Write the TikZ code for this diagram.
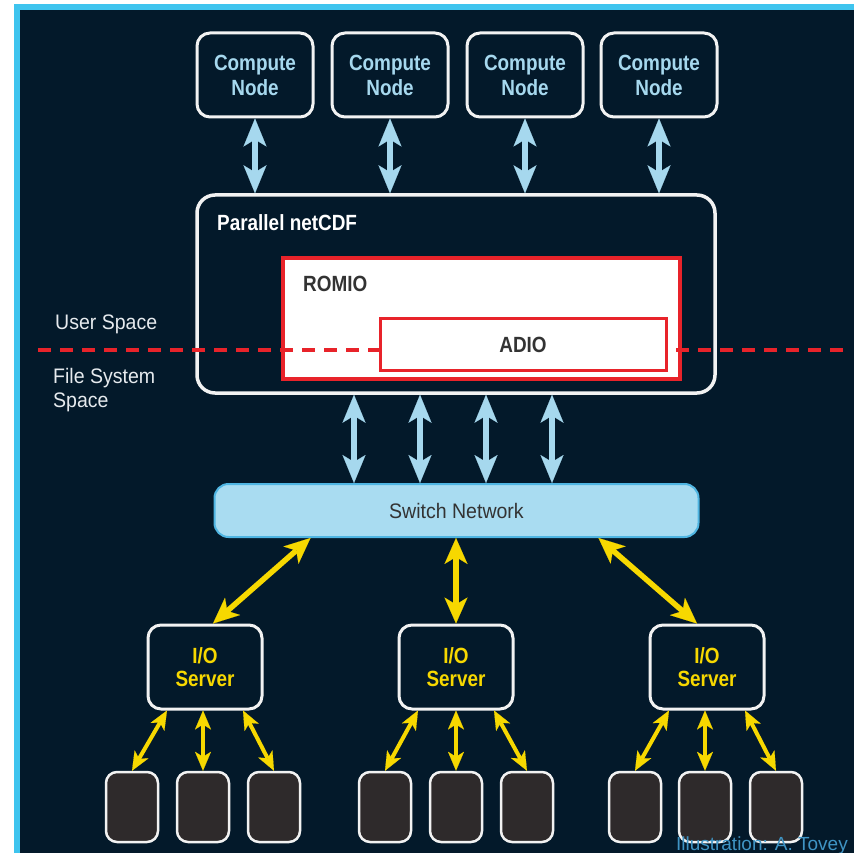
\documentclass[tikz,border=0pt]{standalone}
\usepackage{fontspec}
\setmainfont{Liberation Sans}
\newfontfamily\condbold{Liberation Sans}[FakeStretch=0.86]
\newfontfamily\condreg{Liberation Sans}[FakeStretch=0.93]
\usetikzlibrary{arrows.meta,calc}
\definecolor{bg}{HTML}{03192A}
\definecolor{cyanedge}{HTML}{3EC4EE}
\definecolor{lblue}{HTML}{A6D8EE}
\definecolor{swfill}{HTML}{A9DCF1}
\definecolor{swedge}{HTML}{4FB5E2}
\definecolor{ylw}{HTML}{F7D800}
\definecolor{rd}{HTML}{E8232A}
\definecolor{diskfill}{HTML}{2E2A2B}
\definecolor{edge}{HTML}{F2F2F2}
\definecolor{credit}{HTML}{3F94C4}
\definecolor{darktext}{HTML}{333333}
\definecolor{lighttext}{HTML}{E6EAEE}
\begin{document}
\begin{tikzpicture}[x=1pt,y=-1pt,
  box/.style={draw=edge, line width=3pt, rounded corners=13pt, fill=bg, align=center, inner sep=0pt},
  compute/.style={box, minimum width=116pt, minimum height=84pt, text=lblue,
    font=\condbold\bfseries\fontsize{22}{25}\selectfont},
  server/.style={box, minimum width=114pt, minimum height=84pt, text=ylw,
    font=\condbold\bfseries\fontsize{22}{23}\selectfont},
  disk/.style={draw=edge, line width=2.5pt, rounded corners=11pt, fill=diskfill,
    minimum width=52pt, minimum height=70pt, inner sep=0pt},
  redbox/.style={draw=rd, fill=white, inner sep=0pt},
  boldlabel/.style={font=\condbold\bfseries\fontsize{22}{25}\selectfont, inner sep=0pt},
  reglabel/.style={font=\condreg\fontsize{21}{24}\selectfont, inner sep=0pt, align=left},
  barrow/.style={draw=lblue, line width=6.5pt,
    {Stealth[length=28pt,width=23pt,inset=7pt,line width=0.1pt]}-{Stealth[length=28pt,width=23pt,inset=7pt,line width=0.1pt]}},
  yarrow/.style={draw=ylw, line width=5.5pt,
    {Stealth[length=26pt,width=23pt,inset=7pt,line width=0.1pt]}-{Stealth[length=26pt,width=23pt,inset=7pt,line width=0.1pt]}},
  darrow/.style={draw=ylw, line width=4pt,
    {Stealth[length=19pt,width=16pt,inset=5pt,line width=0.1pt]}-{Stealth[length=19pt,width=16pt,inset=5pt,line width=0.1pt]}},
  divider/.style={draw=rd, line width=3.5pt, dash pattern=on 13pt off 9pt}
]
\useasboundingbox (0,0) rectangle (854,853);
% frame and background
\fill[white] (0,0) rectangle (854,853);
\fill[cyanedge] (14,4) rectangle (854,853);
\fill[bg] (20,10) rectangle (854,853);

% compute nodes
\node[compute] (c1) at (255,75) {Compute\\Node};
\node[compute] (c2) at (390,75) {Compute\\Node};
\node[compute] (c3) at (525,75) {Compute\\Node};
\node[compute] (c4) at (659,75) {Compute\\Node};

% parallel netCDF
\node[box, line width=3.5pt, rounded corners=18pt, minimum width=518pt, minimum height=198pt] (pn) at (456,294) {};
\node[boldlabel, text=white, anchor=west] (pnlabel) at (217,223) {Parallel netCDF};

% ROMIO
\node[redbox, line width=4pt, minimum width=397pt, minimum height=121pt] (romio) at (481.5,318.5) {};
\node[boldlabel, text=darktext, anchor=west] (romiolabel) at (303,284) {ROMIO};

% dashed divider
\coordinate (divL) at (38,350);
\coordinate (divR) at (846,350);
\draw[divider] (divL) -- (divR);

% ADIO
\node[redbox, line width=3pt, minimum width=286pt, minimum height=52pt, text=darktext,
  font=\condbold\bfseries\fontsize{22}{25}\selectfont] (adio) at (523,344.5) {ADIO};

% space labels
\node[reglabel, text=lighttext, anchor=west] (user) at (55,324) {User Space};
\node[reglabel, text=lighttext, anchor=north west] (fss) at (53,368) {File System\\Space};

% arrows compute -> pn
\foreach \c in {c1,c2,c3,c4}
  \draw[barrow] (\c.south) -- (\c.south |- pn.north);

% switch network
\node[draw=swedge, line width=2pt, fill=swfill, rounded corners=14pt, minimum width=484pt,
  minimum height=53pt, text=darktext, font=\condreg\fontsize{21}{24}\selectfont] (sw) at (456.5,510.5) {Switch Network};

\foreach \dx in {-102,-36,30,96}
  \draw[barrow] ([xshift=\dx pt]pn.south) -- ([xshift=\dx pt]pn.south |- sw.north);

% I/O servers
\node[server] (s1) at (205,667) {I/O\\Server};
\node[server] (s2) at (456,667) {I/O\\Server};
\node[server] (s3) at (707,667) {I/O\\Server};

\draw[yarrow] ([xshift=-146pt]sw.south) -- ([xshift=8pt]s1.north);
\draw[yarrow] (s2.north |- sw.south) -- (s2.north);
\draw[yarrow] ([xshift=142pt]sw.south) -- ([xshift=-10pt]s3.north);

% disks
\node[disk] (d11) at (132,807) {};
\node[disk] (d12) at (203,807) {};
\node[disk] (d13) at (274,807) {};
\node[disk] (d21) at (385,807) {};
\node[disk] (d22) at (456,807) {};
\node[disk] (d23) at (527,807) {};
\node[disk] (d31) at (635,807) {};
\node[disk] (d32) at (705,807) {};
\node[disk] (d33) at (776,807) {};

\draw[darrow] ([xshift=-38pt]s1.south) -- (d11.north);
\draw[darrow] (d12.north |- s1.south) -- (d12.north);
\draw[darrow] ([xshift=38pt]s1.south) -- (d13.north);
\draw[darrow] ([xshift=-38pt]s2.south) -- (d21.north);
\draw[darrow] (d22.north |- s2.south) -- (d22.north);
\draw[darrow] ([xshift=38pt]s2.south) -- (d23.north);
\draw[darrow] ([xshift=-38pt]s3.south) -- (d31.north);
\draw[darrow] (d32.north |- s3.south) -- (d32.north);
\draw[darrow] ([xshift=38pt]s3.south) -- (d33.north);

% credit
\node[anchor=base east, inner sep=0pt, text=credit, font=\fontsize{19}{22}\selectfont] (creditlabel) at (848,850) {Illustration: A. Tovey};
\end{tikzpicture}
\end{document}
